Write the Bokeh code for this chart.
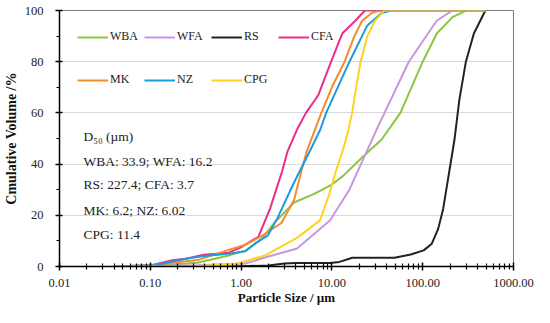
from bokeh.plotting import figure
from bokeh.models import (Range1d, FixedTicker, CustomJSTickFormatter, Legend,
                          LegendItem, Label)
from bokeh.embed import file_html
from bokeh.resources import INLINE

# ---- data (particle size in µm, cumulative volume in %) ----
WBA_x = [0.04, 0.1, 0.33, 0.73, 1.12, 1.7, 2.37, 3.83, 6.3, 10.0, 13.2, 21.5, 35.3, 56.8, 100, 143, 213, 302, 490]
WBA_y = [0, 0.2, 1.5, 4.3, 6.2, 10.9, 17.4, 25, 28.3, 32, 35.3, 42.6, 49.6, 60, 80, 91, 97.4, 100, 100]

WFA_x = [0.04, 0.33, 1.12, 1.83, 4.13, 9.5, 15.6, 21.5, 31.1, 38, 70.3, 142.6, 213, 490]
WFA_y = [0, 0.5, 1.2, 3.5, 7, 18, 30, 41, 53.5, 60, 80, 96, 100, 100]

RS_x = [0.04, 0.8, 2.0, 3.0, 4.0, 9.5, 12.1, 16.8, 49, 73.8, 102.5, 126, 148, 168, 198, 215, 224, 253, 299, 366, 490]
RS_y = [0, 0, 0.4, 1.2, 1.4, 1.4, 1.8, 3.4, 3.4, 4.7, 6.3, 8.9, 14.7, 22.5, 38, 45.7, 49.6, 65, 80, 91, 100]

CFA_x = [0.04, 0.102, 0.167, 0.255, 0.387, 0.73, 0.98, 1.55, 2.08, 2.83, 3.25, 4.13, 5.18, 7.1, 9.8, 13.0, 18.1, 23.1, 490]
CFA_y = [0, 0.5, 2.3, 3.1, 4.6, 5.4, 7.4, 11.6, 22.5, 37.2, 45, 53.5, 60, 67, 80, 91, 96, 100, 100]

MK_x = [0.04, 0.102, 0.33, 0.73, 1.12, 1.70, 2.78, 3.83, 4.44, 5.28, 6.28, 7.65, 10.3, 13.8, 17.7, 21.5, 27.5, 33.6, 490]
MK_y = [0, 0.5, 2.5, 6.5, 8.5, 12, 17, 26, 35, 45, 52, 60, 71, 80, 90, 96, 99, 100, 100]

NZ_x = [0.04, 0.113, 0.255, 0.387, 0.73, 1.12, 1.43, 1.97, 2.52, 3.83, 5.83, 7.46, 8.65, 15.6, 24.4, 35.3, 45.1, 490]
NZ_y = [0, 0.5, 3.1, 4.1, 5, 6, 9, 12.1, 19, 32.8, 45.7, 53.5, 60, 80, 94, 99, 100, 100]

CPG_x = [0.04, 0.33, 0.87, 1.83, 4.13, 7.4, 9.5, 11.0, 13.1, 14.9, 16.7, 18.5, 20.7, 24.6, 29.8, 37.9, 490]
CPG_y = [0, 0.2, 1, 4.3, 11.2, 18, 29, 37, 45, 52, 60, 70, 80, 90, 96, 100, 100]

series_names = ["WBA", "WFA", "RS", "CFA", "MK", "NZ", "CPG"]
series_colors = ["#8CC63E", "#C696DE", "#222222", "#EE2A8A", "#F68B2C", "#1C9BDF", "#FFD21F"]
series_data = [(WBA_x, WBA_y), (WFA_x, WFA_y), (RS_x, RS_y), (CFA_x, CFA_y),
               (MK_x, MK_y), (NZ_x, NZ_y), (CPG_x, CPG_y)]

x_ticks = [0.01, 0.1, 1, 10, 100, 1000]
y_ticks = [0, 20, 40, 60, 80, 100]

annotation_lines = ["D\u2085\u2080 (\u00b5m)", "WBA: 33.9; WFA: 16.2", "RS: 227.4; CFA: 3.7",
                    "MK: 6.2; NZ: 6.02", "CPG: 11.4"]

FONT = "Liberation Serif"

p = figure(width=534, height=307, x_axis_type="log",
           x_range=Range1d(0.01, 1000), y_range=Range1d(0, 100),
           output_backend="svg", toolbar_location=None,
           min_border_left=59, min_border_right=21, min_border_top=10, min_border_bottom=40)

p.background_fill_color = "white"
p.border_fill_color = "white"
p.outline_line_color = "#7a7a7a"
p.outline_line_width = 1

renderers = {}
for name, color, (xs, ys) in zip(series_names, series_colors, series_data):
    renderers[name] = p.line(xs, ys, line_color=color, line_width=2)

# axes
minor = []
for e in range(-2, 3):
    for m in range(2, 10):
        minor.append(m * 10 ** e)
p.xaxis.ticker = FixedTicker(ticks=x_ticks, minor_ticks=minor)
p.xaxis.formatter = CustomJSTickFormatter(code="return tick.toFixed(2);")
p.yaxis.ticker = FixedTicker(ticks=y_ticks, minor_ticks=[10, 30, 50, 70, 90])

for ax in (p.xaxis[0], p.yaxis[0]):
    ax.axis_line_color = "black"
    ax.axis_line_width = 1.5
    ax.major_tick_line_color = "black"
    ax.major_tick_line_width = 1.5
    ax.minor_tick_line_color = "black"
    ax.minor_tick_line_width = 1.2
    ax.major_label_text_font = FONT
    ax.major_label_text_font_size = "12.5px"
    ax.major_label_text_color = "#222222"
    ax.axis_label_text_font = FONT
    ax.axis_label_text_font_style = "bold"
    ax.axis_label_text_color = "#111111"

p.xaxis.major_tick_in = 4
p.xaxis.major_tick_out = 4
p.xaxis.minor_tick_in = 3
p.xaxis.minor_tick_out = 3
p.xaxis.major_label_standoff = 8
p.xaxis.axis_label = "Particle Size / \u00b5m"
p.xaxis.axis_label_text_font_size = "13px"
p.xaxis.axis_label_standoff = 0

p.yaxis.major_tick_in = 3
p.yaxis.major_tick_out = 4
p.yaxis.minor_tick_in = 0
p.yaxis.minor_tick_out = 3
p.yaxis.major_label_standoff = 12
p.yaxis.axis_label = "Cmulative Volume /%"
p.yaxis.axis_label_text_font_size = "14px"
p.yaxis.axis_label_standoff = 3

p.xgrid.visible = False
p.ygrid.ticker = FixedTicker(ticks=[20, 40, 60, 80])
p.ygrid.grid_line_color = "#d9d9d9"
p.ygrid.grid_line_width = 1

# legends (two rows)
common = dict(orientation="horizontal", glyph_width=31, glyph_height=14,
              label_width=34, label_height=14, label_standoff=2, spacing=0,
              padding=0, margin=0, border_line_alpha=0, background_fill_alpha=0,
              label_text_font=FONT, label_text_font_size="12px",
              label_text_color="#222222")
leg1 = Legend(items=[LegendItem(label=n, renderers=[renderers[n]]) for n in series_names[:4]],
              location=(18, 222), **common)
leg2 = Legend(items=[LegendItem(label=n, renderers=[renderers[n]]) for n in series_names[4:]],
              location=(18, 179), **common)
p.add_layout(leg1)
p.add_layout(leg2)

# D50 annotations
ann_y = [130, 105, 82, 56, 32]
for txt, yy in zip(annotation_lines, ann_y):
    p.add_layout(Label(x=24, y=yy, x_units="screen", y_units="screen", text=txt,
                       text_font=FONT, text_font_size="13.5px", text_color="#222222",
                       text_baseline="middle"))

open("out.html", "w").write(file_html(p, INLINE))
